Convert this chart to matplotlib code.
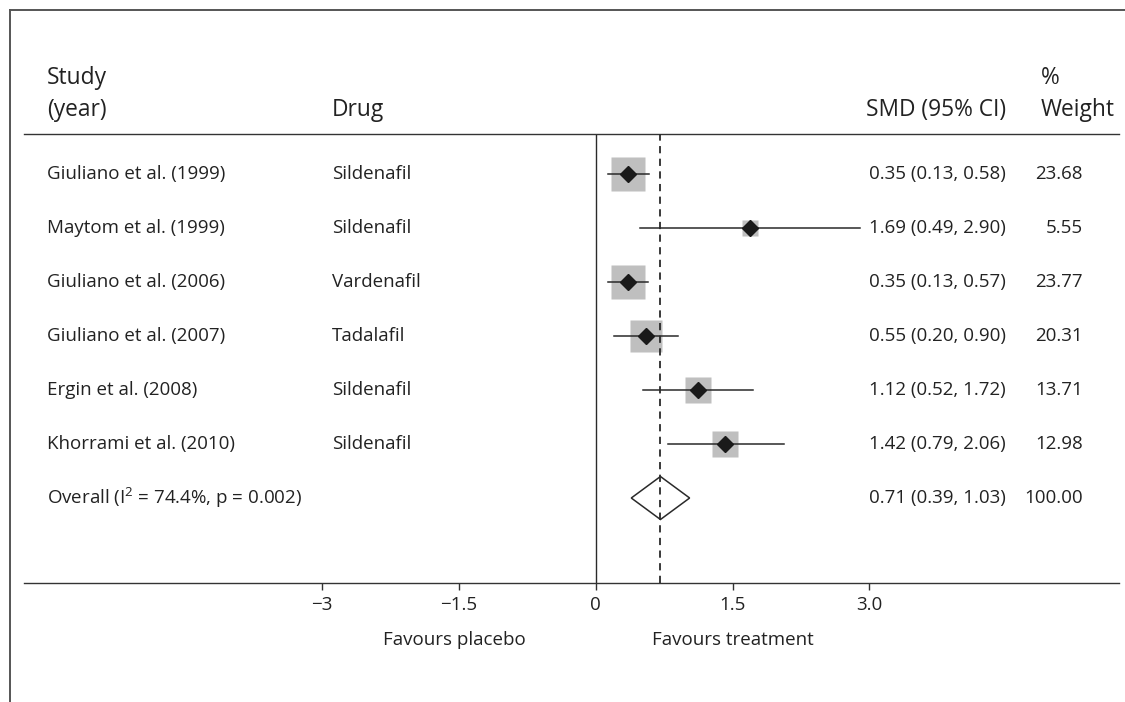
import matplotlib
matplotlib.use("Agg")
import matplotlib.pyplot as plt
from matplotlib.lines import Line2D
from matplotlib.patches import Polygon
import matplotlib.transforms as mtransforms
import numpy as np

# Data
studies = ["Giuliano et al. (1999)", "Maytom et al. (1999)", "Giuliano et al. (2006)",
           "Giuliano et al. (2007)", "Ergin et al. (2008)", "Khorrami et al. (2010)"]
drugs = ["Sildenafil", "Sildenafil", "Vardenafil", "Tadalafil", "Sildenafil", "Sildenafil"]
smd = [0.35, 1.69, 0.35, 0.55, 1.12, 1.42]
ci_low = [0.13, 0.49, 0.13, 0.20, 0.52, 0.79]
ci_high = [0.58, 2.90, 0.57, 0.90, 1.72, 2.06]
weights = [23.68, 5.55, 23.77, 20.31, 13.71, 12.98]

overall_label = r"Overall (I$^{2}$ = 74.4%, p = 0.002)"
overall_smd = 0.71
overall_low = 0.39
overall_high = 1.03
overall_weight = 100.00

tick_values = [-3, -1.5, 0, 1.5, 3.0]
tick_labels = ["\u22123", "\u22121.5", "0", "1.5", "3.0"]

plt.rcParams['font.family'] = ['Open Sans', 'DejaVu Sans']
plt.rcParams['mathtext.fontset'] = 'custom'
plt.rcParams['mathtext.rm'] = 'Open Sans'
plt.rcParams['mathtext.it'] = 'Open Sans'

W, H = 1125, 702
fig = plt.figure(figsize=(W / 100, H / 100), dpi=100)

# axes box: left 24px, right 1119px, top 134px, bottom 583px
ax = fig.add_axes([24 / W, 1 - 583 / H, (1119 - 24) / W, (583 - 134) / H])
px_per_unit = 91.2
zero_px = 595.7
ax.set_xlim((24 - zero_px) / px_per_unit, (1119 - zero_px) / px_per_unit)
row0, row_step = 174, 54
ax.set_ylim((583 - row0) / row_step, (134 - row0) / row_step)

for s in ['left', 'right']:
    ax.spines[s].set_visible(False)
for s in ['top', 'bottom']:
    ax.spines[s].set_color('#333333')
    ax.spines[s].set_linewidth(1.0)

fs = 13.5
hfs = 16.4
txt_col = '#222222'
line_col = '#2a2a2a'

ax.set_yticks([])
ax.set_xticks(tick_values)
ax.set_xticklabels(tick_labels, fontsize=fs, color=txt_col)
ax.tick_params(axis='x', direction='out', length=5, width=1.0, color='#333333', pad=4)

# null line and overall dashed line
ax.axvline(0, color=line_col, lw=1.0, zorder=1)
ax.axvline(overall_smd, color=line_col, lw=1.3, ls=(0, (4, 3)), zorder=4)

rows = np.arange(len(studies))
k = 34 / np.sqrt(max(weights))  # px per sqrt(weight)
for i in rows:
    side_px = k * np.sqrt(weights[i])
    ax.plot([ci_low[i], ci_high[i]], [i, i], color=line_col, lw=1.1, zorder=3)
    ax.plot(smd[i], i, marker='s', ms=side_px * 0.72, mfc='#bfbfbf', mec='none', zorder=2)
    ax.plot(smd[i], i, marker='D', ms=7.8, mfc='#1a1a1a', mec='#1a1a1a', zorder=5)

oy = len(studies)
half_h = 21.5 / row_step
diamond = Polygon([[overall_low, oy], [overall_smd, oy - half_h],
                   [overall_high, oy], [overall_smd, oy + half_h]],
                  closed=True, facecolor='white', edgecolor=line_col, lw=1.1, zorder=3)
ax.add_patch(diamond)

# text columns: x in figure pixels, y in data rows
tr = mtransforms.blended_transform_factory(fig.transFigure, ax.transData)
def fx(px):
    return px / W

for i in rows:
    ax.text(fx(47), i, studies[i], transform=tr, ha='left', va='center', fontsize=fs, color=txt_col, clip_on=False)
    ax.text(fx(332), i, drugs[i], transform=tr, ha='left', va='center', fontsize=fs, color=txt_col, clip_on=False)
    ax.text(fx(1006), i, f"{smd[i]:.2f} ({ci_low[i]:.2f}, {ci_high[i]:.2f})", transform=tr,
            ha='right', va='center', fontsize=fs, color=txt_col, clip_on=False)
    ax.text(fx(1083), i, f"{weights[i]:.2f}", transform=tr, ha='right', va='center',
            fontsize=fs, color=txt_col, clip_on=False)

ax.text(fx(47), oy, overall_label, transform=tr, ha='left', va='center', fontsize=fs, color=txt_col, clip_on=False)
ax.text(fx(1006), oy, f"{overall_smd:.2f} ({overall_low:.2f}, {overall_high:.2f})", transform=tr,
        ha='right', va='center', fontsize=fs, color=txt_col, clip_on=False)
ax.text(fx(1083), oy, f"{overall_weight:.2f}", transform=tr, ha='right', va='center',
        fontsize=fs, color=txt_col, clip_on=False)

# headers
hy1 = (78 - row0) / row_step
hy2 = (110 - row0) / row_step
ax.text(fx(47), hy1, "Study", transform=tr, ha='left', va='center', fontsize=hfs, color=txt_col, clip_on=False)
ax.text(fx(47), hy2, "(year)", transform=tr, ha='left', va='center', fontsize=hfs, color=txt_col, clip_on=False)
ax.text(fx(332), hy2, "Drug", transform=tr, ha='left', va='center', fontsize=hfs, color=txt_col, clip_on=False)
ax.text(fx(1006), hy2, "SMD (95% CI)", transform=tr, ha='right', va='center', fontsize=hfs, color=txt_col, clip_on=False)
ax.text(fx(1041), hy1, "%", transform=tr, ha='left', va='center', fontsize=hfs, color=txt_col, clip_on=False)
ax.text(fx(1041), hy2, "Weight", transform=tr, ha='left', va='center', fontsize=hfs, color=txt_col, clip_on=False)

# favours labels under the axis
fy = (640 - row0) / row_step
ax.text(-1.55, fy, "Favours placebo", ha='center', va='center', fontsize=fs, color=txt_col, clip_on=False)
ax.text(1.5, fy, "Favours treatment", ha='center', va='center', fontsize=fs, color=txt_col, clip_on=False)

# partial frame (top and left)
fig.add_artist(Line2D([9.6 / W, 1], [1 - 10 / H, 1 - 10 / H], transform=fig.transFigure, color='#555555', lw=1.4))
fig.add_artist(Line2D([9.6 / W, 9.6 / W], [0, 1 - 10 / H], transform=fig.transFigure, color='#555555', lw=1.4))

fig.savefig("out.png", dpi=100, facecolor='white')
